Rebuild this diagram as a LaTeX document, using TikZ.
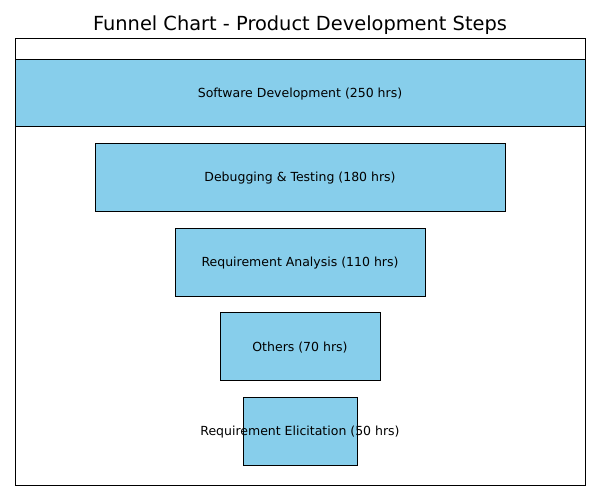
\documentclass[tikz,border=0pt]{standalone}
\usepackage{fontspec}
\setmainfont{DejaVu Sans}
\definecolor{skyblue}{HTML}{87CEEB}
\begin{document}
\begin{tikzpicture}[x=1pt,y=-1pt,
  bar/.style={draw=black,fill=skyblue,line width=0.9pt},
  lbl/.style={font=\fontsize{12.5}{15}\selectfont,inner sep=0pt},
  frame/.style={draw=black,line width=0.9pt}]
\useasboundingbox (0,0) rectangle (600,500);
\node[font=\fontsize{19.4}{23}\selectfont,inner sep=0pt,anchor=base] (title) at (300,31) {Funnel Chart - Product Development Steps};
\path[bar] (15,59.5) rectangle (585,126);
\path[bar] (95,143.5) rectangle (505,211);
\path[bar] (175,228.5) rectangle (425,296);
\path[bar] (220,312.5) rectangle (380,380);
\path[bar] (243.3,397.5) rectangle (357.7,465);
\draw[frame] (15,38.5) rectangle (585,485.5);
\node[lbl] (l1) at (300,94) {Software Development (250 hrs)};
\node[lbl] (l2) at (300,178.5) {Debugging \& Testing (180 hrs)};
\node[lbl] (l3) at (300,263) {Requirement Analysis (110 hrs)};
\node[lbl] (l4) at (300,347.5) {Others (70 hrs)};
\node[lbl] (l5) at (300,432) {Requirement Elicitation (50 hrs)};
\end{tikzpicture}
\end{document}
